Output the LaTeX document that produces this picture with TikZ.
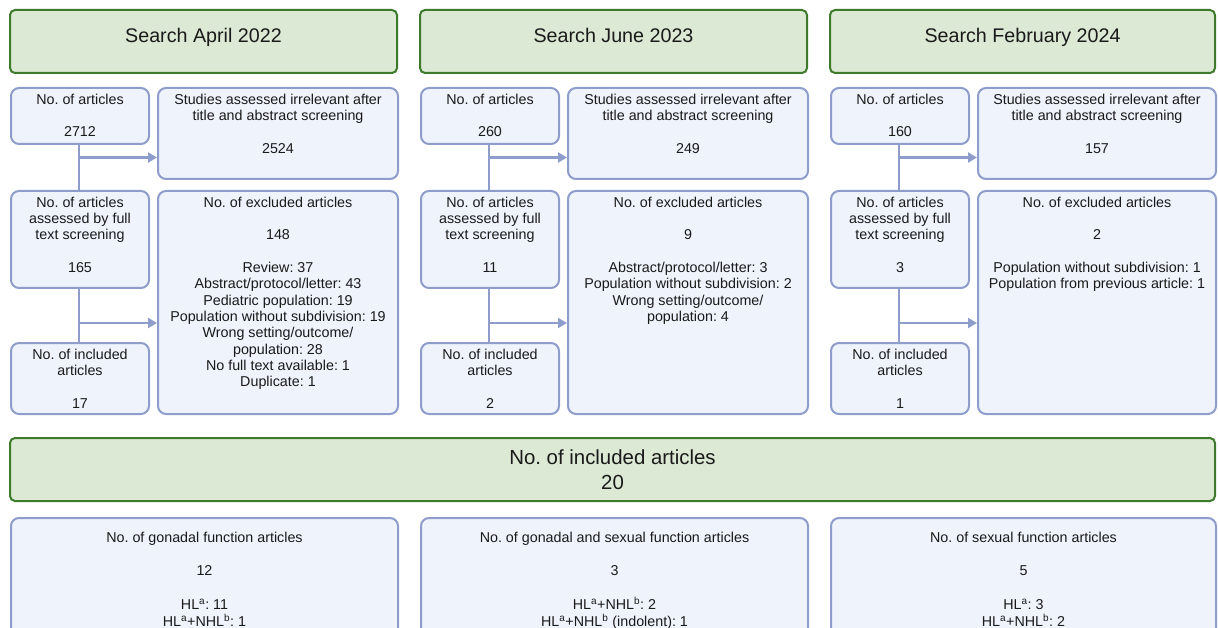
\documentclass[tikz,border=0pt]{standalone}
\usepackage{fontspec}
\setmainfont{Liberation Sans}
\usetikzlibrary{arrows.meta}
\frenchspacing
\definecolor{gfill}{HTML}{DCEAD5}
\definecolor{gdraw}{HTML}{3D7A2C}
\definecolor{bfill}{HTML}{EEF3FC}
\definecolor{bdraw}{HTML}{8E9DCB}
\definecolor{txt}{HTML}{1A1A1A}
\tikzset{
  greenbox/.style={draw=gdraw, fill=gfill, line width=2pt, rounded corners=5pt, inner sep=0pt, anchor=north west, text=txt},
  bluebox/.style={draw=bdraw, fill=bfill, line width=2pt, rounded corners=8pt, inner sep=0pt, anchor=north west, text=txt},
  flowline/.style={draw=bdraw, line width=2.2pt},
  flowarrow/.style={draw=bdraw, line width=2.2pt, -{Triangle[length=9pt,width=10pt]}},
}
\newcommand{\btxt}{\fontsize{14.3}{16.3}\selectfont}
\newcommand{\htxt}{\fontsize{19.7}{24}\selectfont}
\newcommand{\ctxt}{\fontsize{14.3}{16.8}\selectfont}
\newcommand{\hbx}[1]{\raisebox{3.5pt}[14pt][4pt]{\htxt #1}}
\newcommand{\bbox}[3]{\begin{minipage}[t][#2pt][t]{#1pt}\centering\vspace{6pt}\btxt #3\end{minipage}}
\newcommand{\cbox}[3]{\begin{minipage}[t][#2pt][t]{#1pt}\centering\vspace{14pt}\ctxt #3\end{minipage}}
\begin{document}
\begin{tikzpicture}[x=1pt,y=-1pt]
\useasboundingbox (0,0) rectangle (1218,628);
\begin{scope}
\clip (0,0) rectangle (1218,628);
% headers
\node[greenbox, minimum width=387pt, minimum height=63pt, anchor=center] (h1) at (203.5,41.5) {\hbx{Search April 2022}};
\node[greenbox, minimum width=387pt, minimum height=63pt, anchor=center] (h2) at (613.5,41.5) {\hbx{Search June 2023}};
\node[greenbox, minimum width=385pt, minimum height=63pt, anchor=center] (h3) at (1022.5,41.5) {\hbx{Search February 2024}};

% column 1
\node[bluebox] (a1) at (10,87) {\bbox{138}{56}{No. of articles\\[16.3pt]2712}};
\node[bluebox] (r1) at (157,87) {\bbox{240}{91}{Studies assessed irrelevant after\\title and abstract screening\\[16.3pt]2524}};
\node[bluebox] (f1) at (10,190) {\bbox{138}{97}{No. of articles\\assessed by full\\text screening\\[16.3pt]165}};
\node[bluebox] (e1) at (157,190) {\bbox{240}{223}{No. of excluded articles\\[16.3pt]148\\[16.3pt]Review: 37\\Abstract/protocol/letter: 43\\Pediatric population: 19\\Population without subdivision: 19\\Wrong setting/outcome/\\population: 28\\No full text available: 1\\Duplicate: 1}};
\node[bluebox] (i1) at (10,342) {\bbox{138}{71}{No. of included\\articles\\[16.3pt]17}};

% column 2
\node[bluebox] (a2) at (420,87) {\bbox{138}{56}{No. of articles\\[16.3pt]260}};
\node[bluebox] (r2) at (567,87) {\bbox{240}{91}{Studies assessed irrelevant after\\title and abstract screening\\[16.3pt]249}};
\node[bluebox] (f2) at (420,190) {\bbox{138}{97}{No. of articles\\assessed by full\\text screening\\[16.3pt]11}};
\node[bluebox] (e2) at (567,190) {\bbox{240}{223}{No. of excluded articles\\[16.3pt]9\\[16.3pt]Abstract/protocol/letter: 3\\Population without subdivision: 2\\Wrong setting/outcome/\\population: 4}};
\node[bluebox] (i2) at (420,342) {\bbox{138}{71}{No. of included\\articles\\[16.3pt]2}};

% column 3
\node[bluebox] (a3) at (830,87) {\bbox{138}{56}{No. of articles\\[16.3pt]160}};
\node[bluebox] (r3) at (977,87) {\bbox{238}{91}{Studies assessed irrelevant after\\title and abstract screening\\[16.3pt]157}};
\node[bluebox] (f3) at (830,190) {\bbox{138}{97}{No. of articles\\assessed by full\\text screening\\[16.3pt]3}};
\node[bluebox] (e3) at (977,190) {\bbox{238}{223}{No. of excluded articles\\[16.3pt]2\\[16.3pt]Population without subdivision: 1\\Population from previous article: 1}};
\node[bluebox] (i3) at (830,342) {\bbox{138}{71}{No. of included\\articles\\[16.3pt]1}};

% connectors
\foreach \c/\xv in {1/79,2/489,3/899}{
  \coordinate (t\c) at (\xv,157.5);
  \coordinate (u\c) at (\xv,323);
  \draw[flowline] (a\c.south -| t\c) -- (f\c.north -| t\c);
  \draw[flowline] (f\c.south -| u\c) -- (i\c.north -| u\c);
  \draw[flowarrow] (t\c) -- (r\c.west |- t\c);
  \draw[flowarrow] (u\c) -- (e\c.west |- u\c);
}

% bottom
\node[greenbox, minimum width=1205pt, minimum height=63pt, anchor=center, align=center, font=\fontsize{20.4}{25}\selectfont] (inc) at (612.5,469.5) {No. of included articles\\20};
\node[bluebox] (g1) at (10,517) {\cbox{387}{130}{No. of gonadal function articles\\[16.8pt]12\\[16.8pt]HL\textsuperscript{a}: 11\\HL\textsuperscript{a}+NHL\textsuperscript{b}: 1}};
\node[bluebox] (g2) at (420,517) {\cbox{387}{130}{No. of gonadal and sexual function articles\\[16.8pt]3\\[16.8pt]HL\textsuperscript{a}+NHL\textsuperscript{b}: 2\\HL\textsuperscript{a}+NHL\textsuperscript{b} (indolent): 1}};
\node[bluebox] (g3) at (830,517) {\cbox{385}{130}{No. of sexual function articles\\[16.8pt]5\\[16.8pt]HL\textsuperscript{a}: 3\\HL\textsuperscript{a}+NHL\textsuperscript{b}: 2}};
\end{scope}
\end{tikzpicture}
\end{document}
